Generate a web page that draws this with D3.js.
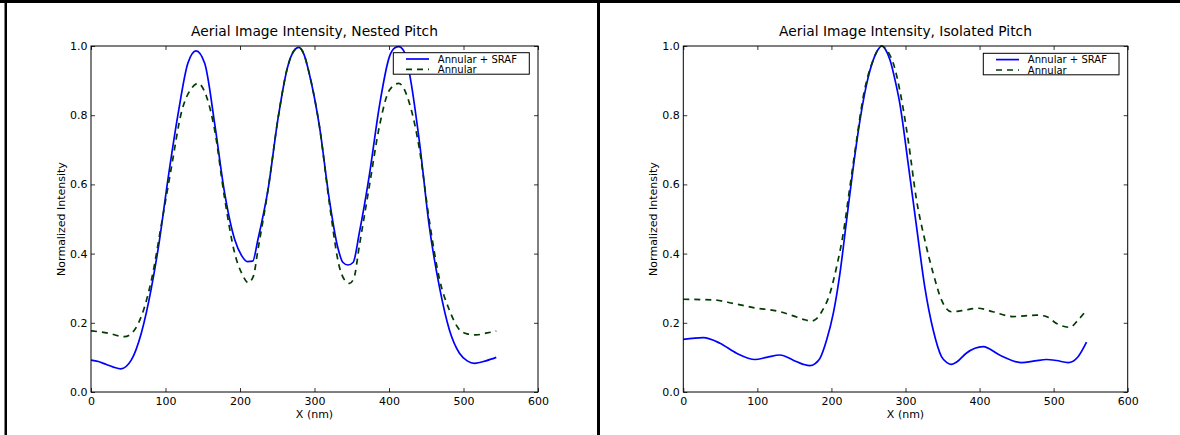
<!DOCTYPE html>
<html><head><meta charset="utf-8">
<script src="https://cdn.jsdelivr.net/npm/d3@7"></script>
<style>html,body{margin:0;padding:0;background:#fff;}svg{display:block;font-family:"DejaVu Sans",sans-serif;}</style>
</head><body>
<svg id="c" width="1180" height="435"></svg>
<script>
const xTicks = [0, 100, 200, 300, 400, 500, 600];
const yTicks = [0.0, 0.2, 0.4, 0.6, 0.8, 1.0];
const seriesNames = ["Annular + SRAF", "Annular"];

// Nested pitch
const nestedSrafX = [0, 10, 20, 30, 40, 54, 67.5, 81, 92, 103, 117, 130, 141, 152.6, 166, 179, 193, 202, 210, 217, 224, 238, 251, 264, 272, 279, 286, 293, 306.7, 320, 331, 338, 345, 352, 360, 374, 387, 400.7, 408, 413, 420, 427.5, 441, 454, 468, 481, 494.6, 505, 515, 530, 544];
const nestedSrafY = [0.092, 0.088, 0.080, 0.072, 0.067, 0.092, 0.17, 0.30, 0.44, 0.61, 0.805, 0.95, 0.986, 0.95, 0.776, 0.58, 0.44, 0.395, 0.377, 0.378, 0.44, 0.59, 0.79, 0.94, 0.985, 0.996, 0.975, 0.92, 0.767, 0.555, 0.42, 0.375, 0.367, 0.375, 0.458, 0.632, 0.825, 0.97, 0.995, 0.998, 0.985, 0.92, 0.72, 0.48, 0.30, 0.18, 0.112, 0.09, 0.083, 0.09, 0.10];
const nestedAnnX = [0, 23, 45, 58.6, 72, 83, 94, 108, 121, 135, 143.6, 155, 166, 179, 193, 203, 211, 218, 224, 238, 251, 264, 272, 279, 286, 293, 306.7, 320, 333.6, 340, 347, 353, 360, 374, 387, 400.7, 413, 427.5, 441, 454, 468, 481, 494.6, 505, 517, 530, 544];
const nestedAnnY = [0.177, 0.17, 0.16, 0.18, 0.247, 0.343, 0.478, 0.65, 0.805, 0.878, 0.892, 0.854, 0.757, 0.565, 0.40, 0.34, 0.316, 0.335, 0.41, 0.59, 0.79, 0.94, 0.985, 0.996, 0.975, 0.92, 0.767, 0.545, 0.36, 0.325, 0.314, 0.33, 0.42, 0.60, 0.767, 0.873, 0.892, 0.834, 0.70, 0.497, 0.324, 0.237, 0.18, 0.168, 0.165, 0.17, 0.176];

// Isolated pitch
const isoSrafX = [0, 27, 49.5, 72, 96.8, 112.5, 130.5, 148.5, 162, 171, 178, 184.5, 193.5, 202.5, 211.5, 220.5, 229.5, 238.5, 247.5, 256.5, 263, 268, 273, 279, 285, 292.3, 303.6, 314.9, 326, 337.4, 348.6, 356, 362, 370, 382, 404.9, 427, 456.6, 475, 490.4, 503.9, 519.6, 533, 544.4];
const isoSrafY = [0.152, 0.157, 0.141, 0.112, 0.094, 0.10, 0.107, 0.092, 0.08, 0.076, 0.082, 0.097, 0.15, 0.227, 0.343, 0.497, 0.65, 0.785, 0.89, 0.96, 0.99, 1.0, 0.99, 0.96, 0.91, 0.834, 0.66, 0.478, 0.304, 0.179, 0.102, 0.085, 0.08, 0.088, 0.112, 0.131, 0.107, 0.085, 0.09, 0.094, 0.091, 0.085, 0.102, 0.144];
const isoAnnX = [0, 40.5, 67.5, 94.5, 130.5, 148.5, 162, 173, 180, 186.8, 198, 207, 216, 225, 234, 243, 256.5, 263, 268, 274, 283.5, 294.8, 303.6, 314.9, 326, 337.4, 348.6, 362, 375.6, 398, 418, 445, 477, 490.4, 504, 522, 533, 544.4];
const isoAnnY = [0.268, 0.266, 0.256, 0.244, 0.232, 0.22, 0.21, 0.205, 0.212, 0.232, 0.285, 0.362, 0.459, 0.594, 0.728, 0.854, 0.96, 0.99, 1.0, 0.99, 0.95, 0.844, 0.728, 0.555, 0.44, 0.343, 0.266, 0.232, 0.235, 0.242, 0.232, 0.218, 0.222, 0.218, 0.198, 0.187, 0.208, 0.237];

const BLUE = "#0000ff", GREEN = "#003c00";
const svg = d3.select("#c");

// figure frames
svg.append("rect").attr("x", 0).attr("y", 0).attr("width", 1180).attr("height", 3).attr("fill", "#000");
svg.append("rect").attr("x", 4.5).attr("y", 0).attr("width", 2.5).attr("height", 435).attr("fill", "#000");
svg.append("rect").attr("x", 597).attr("y", 0).attr("width", 3).attr("height", 435).attr("fill", "#000");

function panel(cfg) {
  const x = d3.scaleLinear().domain([0, 600]).range([cfg.x0, cfg.x1]);
  const y = d3.scaleLinear().domain([0, 1]).range([392, 46]);
  const g = svg.append("g");
  const line = d3.line().x(d => x(d[0])).y(d => y(d[1])).curve(d3.curveMonotoneX);
  const d1 = cfg.sx.map((v, i) => [v, cfg.sy[i]]);
  const d2 = cfg.ax.map((v, i) => [v, cfg.ay[i]]);
  g.append("path").attr("d", line(d1)).attr("fill", "none").attr("stroke", BLUE).attr("stroke-width", 1.7);
  g.append("path").attr("d", line(d2)).attr("fill", "none").attr("stroke", GREEN).attr("stroke-width", 1.7).attr("stroke-dasharray", "6,5");

  // frame
  g.append("rect").attr("x", cfg.x0).attr("y", 46).attr("width", cfg.x1 - cfg.x0).attr("height", 346)
    .attr("fill", "none").attr("stroke", "#000").attr("stroke-width", 1);

  // axes ticks inside
  const bottom = d3.axisBottom(x).tickValues(xTicks).tickSize(-4).tickPadding(5.5).tickFormat(d3.format("d"));
  const top = d3.axisTop(x).tickValues(xTicks).tickSize(-4).tickFormat("");
  const left = d3.axisLeft(y).tickValues(yTicks).tickSize(-4).tickPadding(3.5).tickFormat(d3.format(".1f"));
  const right = d3.axisRight(y).tickValues(yTicks).tickSize(-4).tickFormat("");
  [[bottom, `translate(0,392)`], [top, `translate(0,46)`], [left, `translate(${cfg.x0},0)`], [right, `translate(${cfg.x1},0)`]].forEach(([ax, tr]) => {
    const a = g.append("g").attr("transform", tr).call(ax);
    a.select(".domain").remove();
    a.selectAll("line").attr("stroke", "#000").attr("stroke-width", 0.8);
    a.selectAll("text").attr("font-size", 11).attr("fill", "#000").attr("font-family", "DejaVu Sans");
  });

  // title & labels
  g.append("text").attr("x", (cfg.x0 + cfg.x1) / 2).attr("y", 36).attr("text-anchor", "middle")
    .attr("font-size", 13.8).text(cfg.title);
  g.append("text").attr("x", (cfg.x0 + cfg.x1) / 2).attr("y", 418).attr("text-anchor", "middle")
    .attr("font-size", 11).text("X (nm)");
  g.append("text").attr("transform", `translate(${cfg.x0 - 26},219) rotate(-90)`).attr("text-anchor", "middle")
    .attr("font-size", 11).text("Normalized Intensity");

  // legend
  const L = cfg.leg;
  g.append("rect").attr("x", L.x).attr("y", L.y).attr("width", L.w).attr("height", 21.5)
    .attr("fill", "#fff").attr("stroke", "#000").attr("stroke-width", 1);
  const cols = [BLUE, GREEN];
  seriesNames.forEach((nm, i) => {
    const ly = L.y + 6.3 + i * 10.4;
    const ln = g.append("line").attr("x1", L.x + 12.7).attr("x2", L.x + 35.7).attr("y1", ly).attr("y2", ly)
      .attr("stroke", cols[i]).attr("stroke-width", 1.7);
    if (i === 1) ln.attr("stroke-dasharray", "6,5");
    g.append("text").attr("x", L.x + 44.5).attr("y", ly + 3.6).attr("font-size", 10).text(nm);
  });
}

panel({x0: 91, x1: 538, title: "Aerial Image Intensity, Nested Pitch", sx: nestedSrafX, sy: nestedSrafY, ax: nestedAnnX, ay: nestedAnnY,
  leg: {x: 393.3, y: 52.7, w: 136}});
panel({x0: 683.3, x1: 1127.7, title: "Aerial Image Intensity, Isolated Pitch", sx: isoSrafX, sy: isoSrafY, ax: isoAnnX, ay: isoAnnY,
  leg: {x: 983.3, y: 53.3, w: 135.7}});
</script>
</body></html>
